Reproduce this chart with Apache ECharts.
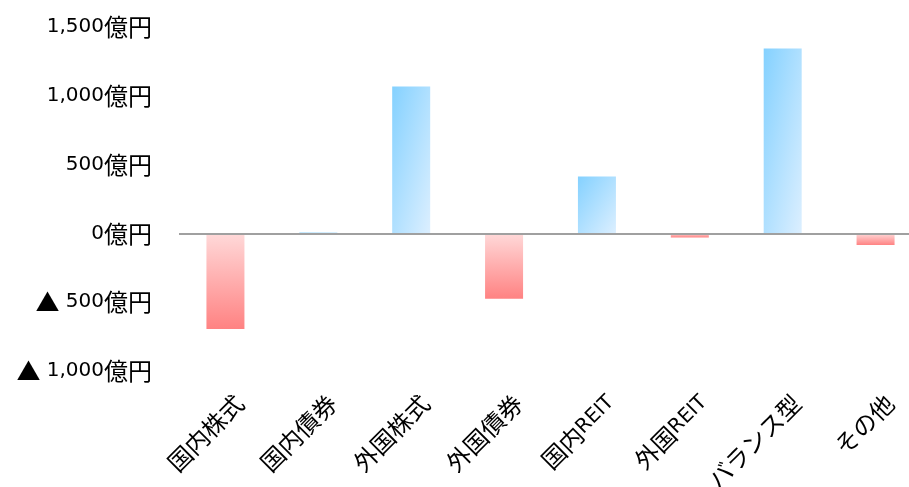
<!DOCTYPE html>
<html>
<head>
<meta charset="utf-8">
<script src="https://cdn.jsdelivr.net/npm/echarts@6/dist/echarts.min.js"></script>
<style>
  html, body { margin: 0; padding: 0; background: #fff; overflow: hidden; }
  /* 右端のカテゴリ幅が画面外にはみ出すので、少し広めに描く */
  #chart { width: 922px; height: 487px; }
</style>
</head>
<body>
<div id="chart"></div>
<script>
// 資産クラス別 資金流出入（億円）
const categories = ['国内株式', '国内債券', '外国株式', '外国債券', '国内REIT', '外国REIT', 'バランス型', 'その他'];
const flows = [-695, 4, 1068, -475, 414, -29, 1344, -85];

const yMin = -1000;
const yMax = 1500;
const yStep = 500;

const LATIN = '"DejaVu Sans", sans-serif';
const CJK = '"Noto Sans CJK JP", sans-serif';
const GRID_TOP = 27, GRID_BOTTOM = 116, BAR_W = 38;
const plotH = 487 - GRID_TOP - GRID_BOTTOM;

// プラスは斜めの青グラデーション（棒の対角線に沿う）、マイナスは縦の赤グラデーション
function blueFill(v) {
  const h = Math.max(Math.abs(v) * plotH / (yMax - yMin), 1);
  const w = BAR_W;
  const s = h * h + w * w;
  return new echarts.graphic.LinearGradient(0, 0, 2 * h * h / s, 2 * w * w / s, [
    { offset: 0, color: '#84d1ff' },
    { offset: 1, color: '#dcefff' }
  ]);
}
const redFill = new echarts.graphic.LinearGradient(0, 0, 0, 1, [
  { offset: 0, color: '#ffd9d9' },
  { offset: 1, color: '#ff8282' }
]);

// 英数字と日本語で書体・サイズを分ける
const richStyles = {
  n: { fontFamily: LATIN, fontSize: 20, color: '#000' },
  k: { fontFamily: CJK, fontSize: 24, color: '#000' }
};
function mixText(str) {
  return str.replace(/[A-Za-z0-9, ]+|[^A-Za-z0-9, ]+/g,
    part => /^[A-Za-z0-9, ]+$/.test(part) ? '{n|' + part + '}' : '{k|' + part + '}');
}

function yenLabel(v) {
  const s = Math.abs(v).toLocaleString('en-US') + '億円';
  return mixText(v < 0 ? '▲ ' + s : s);
}

const chart = echarts.init(document.getElementById('chart'));
chart.setOption({
  backgroundColor: '#ffffff',
  animation: false,
  grid: {
    left: 179, right: 0, top: GRID_TOP, bottom: GRID_BOTTOM,
    containLabel: false, outerBoundsMode: 'none'
  },
  xAxis: {
    type: 'category',
    data: categories,
    axisLine: { show: false, onZero: false },
    axisTick: { show: false },
    axisLabel: {
      rotate: 45,
      margin: 14,
      verticalAlign: 'top',
      padding: [8, 0, 0, 0],
      formatter: mixText,
      rich: richStyles
    }
  },
  yAxis: {
    type: 'value',
    min: yMin,
    max: yMax,
    interval: yStep,
    axisLine: { show: false },
    axisTick: { show: false },
    splitLine: { show: false },
    axisLabel: {
      formatter: yenLabel,
      margin: 27,
      rich: richStyles
    }
  },
  series: [{
    type: 'bar',
    barWidth: BAR_W,
    barMinHeight: 1,
    data: flows.map(v => ({
      value: v,
      itemStyle: { color: v >= 0 ? blueFill(v) : redFill }
    })),
    markLine: {
      silent: true,
      symbol: 'none',
      label: { show: false },
      lineStyle: { color: '#a0a0a0', width: 2, type: 'solid' },
      data: [{ yAxis: 0 }]
    }
  }]
});
</script>
</body>
</html>
